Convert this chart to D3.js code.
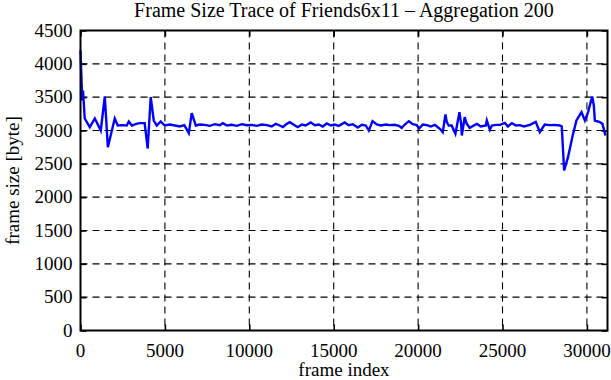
<!DOCTYPE html>
<html>
<head>
<meta charset="utf-8">
<style>
  body { margin: 0; background: #fff; }
  svg { display: block; }
  .grid line { stroke: #000; stroke-width: 1.1; stroke-dasharray: 7,5; }
  .tick-marks .domain { display: none; }
  .tick-marks line { stroke: #000; stroke-width: 1.6; }
  .lbl { font-family: "Liberation Serif", "DejaVu Serif", serif; font-size: 19px; fill: #000; }
</style>
</head>
<body>
<svg width="611" height="380"></svg>

<script src="https://d3js.org/d3.v7.min.js"></script>

<script>
    // frame index / frame size
    var frames = [0, 100, 150, 250, 550, 850, 1200, 1440, 1620, 2030, 2210, 2500, 2740, 2860, 3040, 3300, 3510, 3800,
        3980, 4160, 4340, 4520, 4750, 4990, 5290, 5600, 5880, 6150, 6415, 6590, 6830, 7070,
        7360, 7660, 7960, 8250, 8430, 8670, 8960, 9260, 9560, 9850, 10150, 10450, 10740, 11040, 11330, 11570,
        11810, 11990, 12220, 12400, 12640, 12870, 13110, 13340, 13640, 13880, 14120, 14350, 14590, 14830,
        15060, 15300, 15650, 15890, 16130, 16430, 16660, 16900, 17080, 17300, 17550, 17790, 18090, 18320,
        18620, 18860, 19030, 19210, 19450, 19690, 19920, 20060, 20280, 20520, 20750, 20990, 21290, 21460,
        21620, 21700, 21820, 21990, 22210, 22450, 22550, 22590, 22760, 22880, 23060, 23300, 23480, 23710,
        24010, 24070, 24250, 24370, 24600, 24850, 25140, 25320, 25560, 25800, 26030, 26270, 26620, 26970,
        27210, 27500, 27800, 28100, 28390, 28510, 28650, 28880, 29180, 29380, 29680, 29880, 30070, 30310,
        30410, 30470, 30770, 30920, 31100];

    var sizes = [4200, 3450, 3600, 3180, 3050, 3180, 3000, 3510, 2750, 3180, 3075, 3080, 3075, 3135, 3075, 3100, 3110, 3110,
        2730, 3500, 3150, 3075, 3135, 3075, 3090, 3075, 3060, 3080, 2960, 3260, 3075, 3090,
        3085, 3070, 3095, 3080, 3110, 3075, 3085, 3070, 3095, 3080, 3085, 3070, 3090, 3080, 3060, 3100,
        3075, 3050, 3100, 3125, 3085, 3050, 3090, 3075, 3120, 3080, 3090, 3060, 3105, 3075,
        3090, 3070, 3120, 3080, 3095, 3045, 3085, 3075, 3000, 3140, 3090, 3075, 3090, 3080,
        3085, 3070, 3040, 3090, 3140, 3095, 3080, 3030, 3090, 3080, 3060, 3085, 3025, 2975,
        3240, 3125, 3075, 3075, 2950, 3275, 3100, 2925, 3200, 3100, 3040, 3075, 3100, 3060,
        3075, 3150, 3010, 3075, 3085, 3085, 3115, 3060, 3110, 3075, 3080, 3060, 3085, 3130,
        2975, 3090, 3080, 3085, 3075, 3060, 2400, 2600, 2950, 3150, 3275, 3150, 3275, 3510,
        3375, 3150, 3125, 3100, 2925];

    var xTicks = [0, 5000, 10000, 15000, 20000, 25000, 30000];
    var yTicks = [0, 500, 1000, 1500, 2000, 2500, 3000, 3500, 4000, 4500];

    var titleText = "Frame Size Trace of Friends6x11 \u2013 Aggregation 200";
    var xLabel = "frame index";
    var yLabel = "frame size [byte]";

    function makeTraceChart() {
        var svg = d3.select("svg");

        var left = 80.5, right = 607.5, top = 30.5, bottom = 330.5;
        var width = right - left, height = bottom - top;

        var x = d3.scaleLinear().domain([0, 31220]).range([0, width]);
        var y = d3.scaleLinear().domain([0, 4500]).range([height, 0]);

        var g = svg.append("g").attr("transform", "translate(" + left + "," + top + ")");

        // dashed grid
        var grid = g.append("g").attr("class", "grid");
        grid.selectAll(".gx")
            .data(xTicks.filter(function(d) { return d > 0; }))
            .enter().append("line")
            .attr("x1", function(d) { return x(d); })
            .attr("x2", function(d) { return x(d); })
            .attr("y1", 0)
            .attr("y2", height);
        grid.selectAll(".gy")
            .data(yTicks.filter(function(d) { return d > 0 && d < 4500; }))
            .enter().append("line")
            .attr("x1", 0)
            .attr("x2", width)
            .attr("y1", function(d) { return y(d); })
            .attr("y2", function(d) { return y(d); });

        // tick marks on all four sides, pointing inward
        g.append("g").attr("class", "tick-marks")
            .attr("transform", "translate(0," + height + ")")
            .call(d3.axisBottom(x).tickValues(xTicks).tickSize(-6).tickFormat(""));
        g.append("g").attr("class", "tick-marks")
            .call(d3.axisTop(x).tickValues(xTicks).tickSize(-6).tickFormat(""));
        g.append("g").attr("class", "tick-marks")
            .call(d3.axisLeft(y).tickValues(yTicks).tickSize(-6).tickFormat(""));
        g.append("g").attr("class", "tick-marks")
            .attr("transform", "translate(" + width + ",0)")
            .call(d3.axisRight(y).tickValues(yTicks).tickSize(-6).tickFormat(""));

        // tick labels
        g.selectAll(".xlbl")
            .data(xTicks)
            .enter().append("text")
            .attr("class", "lbl")
            .attr("x", function(d) { return x(d); })
            .attr("y", height + 26)
            .attr("text-anchor", "middle")
            .text(function(d) { return d; });
        g.selectAll(".ylbl")
            .data(yTicks)
            .enter().append("text")
            .attr("class", "lbl")
            .attr("x", -8)
            .attr("y", function(d) { return y(d); })
            .attr("dy", "0.33em")
            .attr("text-anchor", "end")
            .text(function(d) { return d; });

        // data line
        var data = frames.map(function(f, i) { return { frame: f, size: sizes[i] }; });
        var line = d3.line()
            .x(function(d) { return x(d.frame); })
            .y(function(d) { return y(d.size); });

        g.append("path")
            .datum(data)
            .attr("d", line)
            .attr("fill", "none")
            .attr("stroke", "#0000ff")
            .attr("stroke-width", 2.4)
            .attr("stroke-linejoin", "miter");

        // frame
        g.append("rect")
            .attr("width", width)
            .attr("height", height)
            .attr("fill", "none")
            .attr("stroke", "#000")
            .attr("stroke-width", 2);

        // labels
        svg.append("text")
            .attr("class", "lbl")
            .attr("x", left + width / 2)
            .attr("y", 17)
            .attr("text-anchor", "middle")
            .style("font-size", "20px")
            .text(titleText);

        svg.append("text")
            .attr("class", "lbl")
            .attr("x", left + width / 2)
            .attr("y", 376)
            .attr("text-anchor", "middle")
            .text(xLabel);

        svg.append("text")
            .attr("class", "lbl")
            .attr("transform", "translate(19," + (top + height / 2) + ") rotate(-90)")
            .attr("text-anchor", "middle")
            .text(yLabel);
    }

    makeTraceChart();
</script>
</body>
</html>
